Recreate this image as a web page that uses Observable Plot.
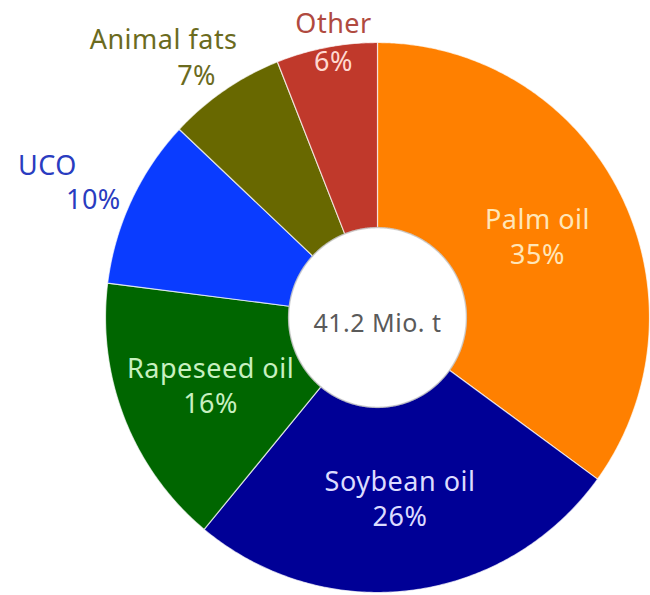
<!DOCTYPE html>
<html>
<head>
<meta charset="utf-8">
<script src="https://cdn.jsdelivr.net/npm/d3@7"></script>
<script src="https://cdn.jsdelivr.net/npm/@observablehq/plot@0.6"></script>
<style>
  html, body { margin: 0; padding: 0; background: #fff; }
  #chart svg text { letter-spacing: 0.5px; }
</style>
</head>
<body>
<div id="chart"></div>
<script>
// ---- data ----
const categories = ["Palm oil", "Soybean oil", "Rapeseed oil", "UCO", "Animal fats", "Other"];
const shares = [35, 26, 16, 10, 7, 6];
const totalLabel = "41.2 Mio. t";

// ---- styles / layout ----
const sliceColors = ["#ff8000", "#000096", "#006600", "#0a3cff", "#686800", "#c0392b"];
const labelLayout = {
  "Palm oil":     {inside: true, color: "#ffe6b8"},
  "Soybean oil":  {inside: true, color: "#dcdcff"},
  "Rapeseed oil": {inside: true, color: "#c8f0c0"},
  "UCO":          {name: {dx: -84, dy: -34, color: "#2a3cc0"}, pct: {dx: -38, dy: 0, color: "#2a3cc0"}},
  "Animal fats":  {name: {dx: -61, dy: -50, color: "#6b6b1e"}, pct: {dx: -28, dy: -14, color: "#6b6b1e"}},
  "Other":        {name: {dx: 7, dy: -23, color: "#b04a40"}, pct: {dx: 7, dy: 15, color: "#ffd8d0"}}
};
const R1 = 1, R0 = 0.327, RL = 0.66;
const font = "'Noto Sans', 'Open Sans', sans-serif";

const total = d3.sum(shares);
let acc = 0;
const slices = categories.map((c, i) => {
  const a0 = acc / total * 2 * Math.PI;
  acc += shares[i];
  const a1 = acc / total * 2 * Math.PI;
  return {c, v: shares[i], a0, a1, am: (a0 + a1) / 2};
});

const ring = slices.flatMap(s => {
  const n = Math.max(2, Math.ceil((s.a1 - s.a0) / (Math.PI / 360)));
  const pts = [];
  for (let k = 0; k <= n; k++) {
    const a = s.a0 + (s.a1 - s.a0) * k / n;
    pts.push({c: s.c, x: R1 * Math.sin(a), y: R1 * Math.cos(a)});
  }
  for (let k = n; k >= 0; k--) {
    const a = s.a0 + (s.a1 - s.a0) * k / n;
    pts.push({c: s.c, x: R0 * Math.sin(a), y: R0 * Math.cos(a)});
  }
  return pts;
});

const holeRim = d3.range(0, 361, 1).map(d => {
  const a = d / 180 * Math.PI;
  return {x: R0 * Math.sin(a), y: R0 * Math.cos(a)};
});

const marks = [
  Plot.line(ring, {x: "x", y: "y", z: "c", fill: "c", stroke: "#ffffff", strokeWidth: 1.2, strokeOpacity: 0.7, curve: "linear-closed"}),
  Plot.line(holeRim, {x: "x", y: "y", stroke: "#9a9a9a", strokeWidth: 1.5, strokeOpacity: 0.45, curve: "linear-closed"}),
  Plot.text([{x: 0, y: 0, t: totalLabel}], {x: "x", y: "y", text: "t", dy: 6, fill: "#5a5a5a", fontSize: 25, fontFamily: font})
];

for (const s of slices) {
  const L = labelLayout[s.c];
  if (L.inside) {
    marks.push(Plot.text([{x: RL * Math.sin(s.am), y: RL * Math.cos(s.am), t: s.c + "\n" + s.v + "%"}], {
      x: "x", y: "y", text: "t", fill: L.color, fontSize: 27, fontFamily: font, lineHeight: 1.3
    }));
  } else {
    const p = {x: R1 * Math.sin(s.am), y: R1 * Math.cos(s.am)};
    marks.push(Plot.text([{...p, t: s.c}], {x: "x", y: "y", text: "t", dx: L.name.dx, dy: L.name.dy, fill: L.name.color, fontSize: 27, fontFamily: font}));
    marks.push(Plot.text([{...p, t: s.v + "%"}], {x: "x", y: "y", text: "t", dx: L.pct.dx, dy: L.pct.dy, fill: L.pct.color, fontSize: 27, fontFamily: font}));
  }
}

const chart = Plot.plot({
  width: 650,
  height: 595,
  margin: 0,
  x: {domain: [-1, 1], range: [105, 649], axis: null},
  y: {domain: [-1, 1], range: [592, 42], axis: null},
  color: {domain: categories, range: sliceColors},
  style: {background: "#ffffff", overflow: "visible"},
  marks
});
document.getElementById("chart").appendChild(chart);
</script>
</body>
</html>
